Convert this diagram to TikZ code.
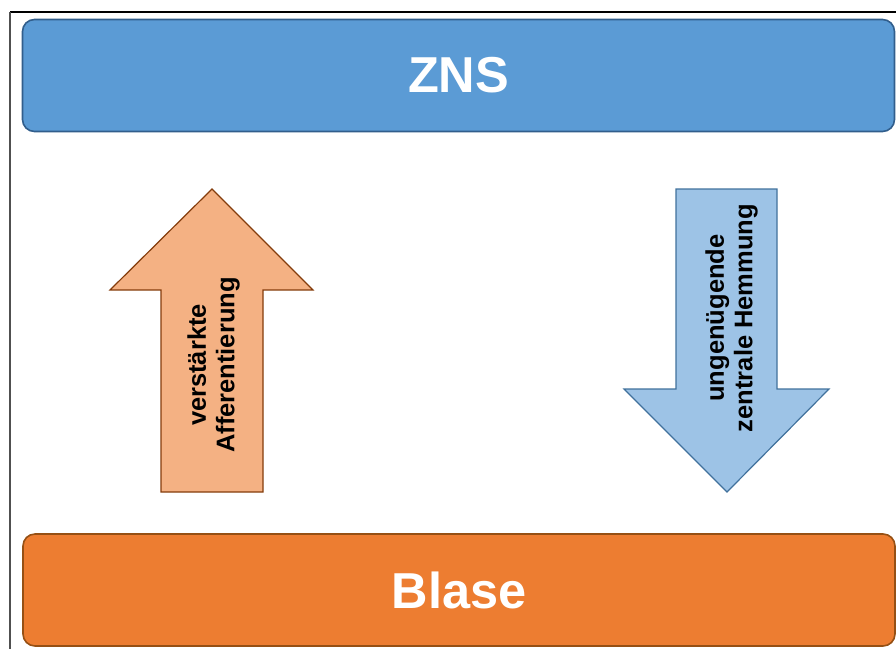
\documentclass[tikz,border=0pt]{standalone}
\usepackage{fontspec}
\setmainfont{Liberation Sans}
\definecolor{framegray}{RGB}{80,80,80}
\definecolor{znsfill}{RGB}{91,155,213}
\definecolor{znsline}{RGB}{49,94,140}
\definecolor{blasefill}{RGB}{237,125,49}
\definecolor{blaseline}{RGB}{150,80,20}
\definecolor{upfill}{RGB}{244,177,131}
\definecolor{upline}{RGB}{132,60,12}
\definecolor{downfill}{RGB}{157,195,230}
\definecolor{downline}{RGB}{65,113,156}
\begin{document}
\begin{tikzpicture}[x=1pt,y=-1pt,
  band/.style={rounded corners=12pt, line width=1.6pt, minimum width=872pt, minimum height=112pt,
    inner sep=0pt, text=white, font=\fontsize{50.5}{56}\selectfont\bfseries},
  upcolor/.style={fill=upfill, draw=upline, line width=1.2pt, line join=miter},
  downcolor/.style={fill=downfill, draw=downline, line width=1.2pt, line join=miter},
  arrowlabel/.style={rotate=90, align=center, inner sep=0pt, font=\fontsize{25.5}{28.5}\selectfont\bfseries}
]
\useasboundingbox (0,0) rectangle (896,649);
% outer frame: top and left edges
\draw[line width=1.5pt, black] (10,12) -- (896,12);
\draw[line width=2pt, framegray] (10,12) -- (10,649);

% top band
\node[band, fill=znsfill, draw=znsline] (zns) at (458.5,75.5) {ZNS};
% bottom band
\node[band, fill=blasefill, draw=blaseline] (blase) at (459,590) {Blase};

% upward arrow
\draw[upcolor] (212,189) -- (313,290) -- (263,290) -- (263,492) -- (161,492) -- (161,290) -- (110,290) -- cycle;
\node[arrowlabel] (aff) at (213.5,365) {verstärkte\\Afferentierung};

% downward arrow
\draw[downcolor] (676,189) -- (777,189) -- (777,389) -- (829,389) -- (727,492) -- (624,389) -- (676,389) -- cycle;
\node[arrowlabel] (hem) at (731.5,318) {ungenügende\\zentrale Hemmung};
\end{tikzpicture}
\end{document}
